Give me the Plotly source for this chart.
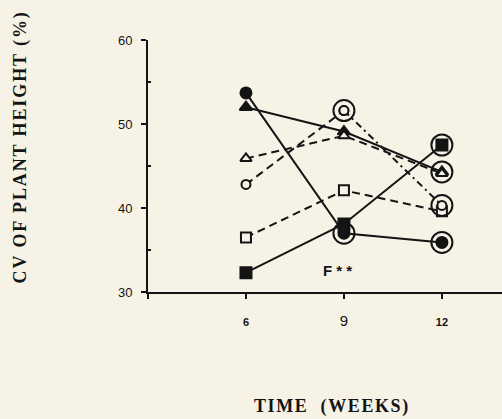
import plotly.graph_objects as go

weeks = [6, 9, 12]

filled_circle = [53.7, 37.0, 35.9]
filled_triangle = [52.0, 49.1, 44.3]
filled_square = [32.3, 38.1, 47.5]
open_triangle = [45.9, 48.6, 44.1]
open_circle = [42.8, 51.6, 40.3]
open_square = [36.5, 42.1, 39.6]

# significance rings (True = ringed point)
ring_filled_circle = [False, True, True]
ring_filled_triangle = [False, False, True]
ring_filled_square = [False, False, True]
ring_open_circle = [False, True, True]

x_ticks = [3, 6, 9, 12]
x_ticktext = ["", "<b>6</b>", "<span style='font-size:15px'>9</span>", "<b>12</b>"]
y_ticks = [30, 40, 50, 60]

INK = "#141414"
BG = "#f7f2e6"
DASH = "8px,5px"
DASHDOT = "7px,4px,2px,4px"

fig = go.Figure()

def line_trace(x, y, dash, symbol, filled, size=10, lw=2):
    fig.add_trace(go.Scatter(
        x=x, y=y, mode="lines+markers",
        line=dict(color=INK, width=lw, dash=dash),
        marker=dict(symbol=symbol, size=size, color=INK if filled else BG,
                    line=dict(color=INK, width=2)),
        showlegend=False, hoverinfo="skip"))

# solid filled series
line_trace(weeks, filled_circle, "solid", "circle", True, 11)
line_trace(weeks, filled_triangle, "solid", "triangle-up", True, 11)
line_trace(weeks, filled_square, "solid", "square", True, 11)
# dashed open series
line_trace(weeks, open_square, DASH, "square", False, 10)
line_trace(weeks[:2], open_circle[:2], DASH, "circle", False, 9)
line_trace(weeks[1:], open_circle[1:], DASHDOT, "circle", False, 9)
line_trace(weeks, open_triangle, DASH, "triangle-up", False, 10)

# rings
rx, ry = [], []
for vals, flags in [(filled_circle, ring_filled_circle), (filled_triangle, ring_filled_triangle),
                    (filled_square, ring_filled_square), (open_circle, ring_open_circle)]:
    for w, v, f in zip(weeks, vals, flags):
        if f:
            rx.append(w)
            ry.append(v)
fig.add_trace(go.Scatter(x=rx, y=ry, mode="markers",
                         marker=dict(symbol="circle-open", size=21, color=INK,
                                     line=dict(color=INK, width=2)),
                         showlegend=False, hoverinfo="skip"))

fig.add_annotation(x=8.8, y=32.6, text="<b>F * *</b>", showarrow=False,
                   font=dict(family="Arial, Liberation Sans", size=15, color=INK))

fig.add_annotation(xref="paper", yref="paper", x=-0.396, y=0.575,
                   text="<b><span style='letter-spacing:1.9px'>CV OF PLANT HEIGHT (%)</span></b>",
                   textangle=-90, showarrow=False,
                   font=dict(family="Liberation Serif, Times New Roman", size=18, color=INK))
fig.add_annotation(xref="paper", yref="paper", x=0.52, y=-0.504,
                   text="<b><span style='letter-spacing:1.6px'>TIME  (WEEKS)</span></b>",
                   showarrow=False,
                   font=dict(family="Liberation Serif, Times New Roman", size=18, color=INK))

fig.update_layout(
    width=502, height=419,
    margin=dict(l=148, r=0, t=40, b=127),
    paper_bgcolor=BG, plot_bgcolor=BG,
    xaxis=dict(range=[3, 13.84], tickvals=x_ticks, ticktext=x_ticktext,
               showgrid=False, zeroline=False, showline=True, linecolor=INK, linewidth=2,
               ticks="outside", ticklen=5, tickwidth=2, tickcolor=INK,
               ticklabelstandoff=14,
               tickfont=dict(family="Arial, Liberation Sans", size=11, color=INK)),
    yaxis=dict(range=[30, 60], tickvals=y_ticks,
               showgrid=False, zeroline=False, showline=True, linecolor=INK, linewidth=2,
               ticks="outside", ticklen=5, tickwidth=2, tickcolor=INK,
               ticklabelstandoff=6,
               minor=dict(tickvals=[35, 45, 55], ticks="inside", ticklen=3, tickwidth=1.5, tickcolor=INK),
               tickfont=dict(family="Arial, Liberation Sans", size=13, color=INK)),
)

fig.write_html("out.html", config={"displayModeBar": False},
               post_script="document.body.style.margin='0';document.body.style.background='%s';" % BG)
